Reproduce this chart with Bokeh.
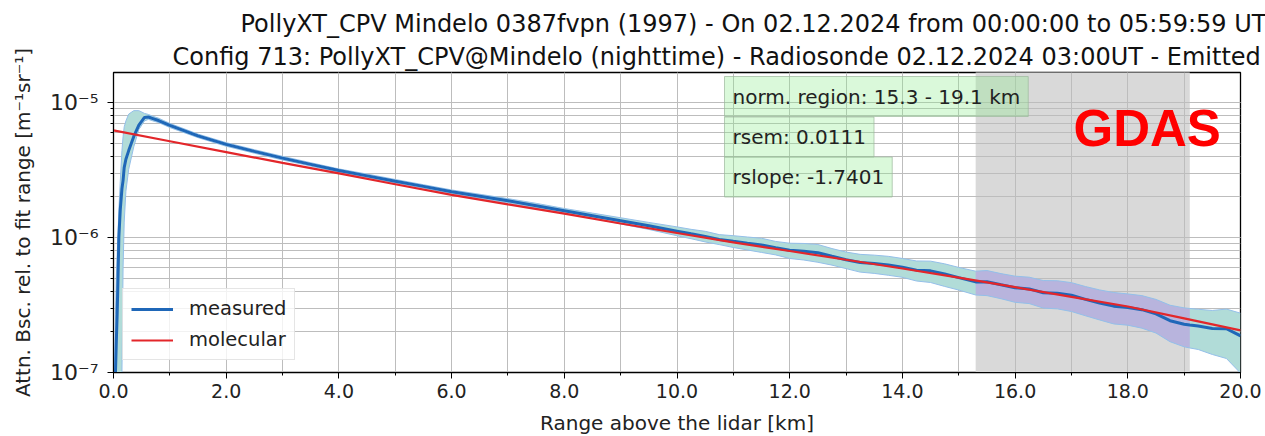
from bokeh.plotting import figure
from bokeh.models import (Range1d, Label, Legend, LegendItem, SingleIntervalTicker,
                          LogTicker, PrintfTickFormatter, CustomJSTickFormatter, Title)
from bokeh.embed import file_html
from bokeh.resources import INLINE

# ---------------- data ----------------
title_line1 = "PollyXT_CPV Mindelo 0387fvpn (1997) - On 02.12.2024 from 00:00:00 to 05:59:59 UT"
title_line2 = "Config 713: PollyXT_CPV@Mindelo (nighttime) - Radiosonde 02.12.2024 03:00UT - Emitted"
x_label = "Range above the lidar [km]"
y_label = "Attn. Bsc. rel. to fit range [m\u207b\u00b9sr\u207b\u00b9]"
norm_text = "norm. region: 15.3 - 19.1 km"
rsem_text = "rsem: 0.0111"
rslope_text = "rslope: -1.7401"
source_text = "GDAS"
norm_lo = 15.3
norm_hi = 19.1

range_km = [0.02, 0.035, 0.05, 0.065, 0.08, 0.095, 0.12, 0.15, 0.17, 0.19, 0.22, 0.27,
            0.36, 0.45, 0.55, 0.62, 0.7, 0.8, 1.0, 1.5, 2.0, 2.5, 3.0, 3.5, 4.0, 4.5,
            5.0, 5.5, 6.0, 6.5, 7.0, 7.5, 8.0, 8.5, 9.0, 9.5, 10.0, 10.25, 10.5, 10.75,
            11.0, 11.25, 11.5, 11.75, 12.0, 12.25, 12.5, 12.75, 13.0, 13.25, 13.5, 13.75,
            14.0, 14.25, 14.5, 14.75, 15.0, 15.3, 15.5, 15.75, 16.0, 16.25, 16.5, 16.75,
            17.0, 17.25, 17.5, 17.75, 18.0, 18.25, 18.5, 18.75, 19.0, 19.1, 19.25, 19.5,
            19.75, 20.0]
measured = [5e-8, 1.0e-7, 1.7e-7, 2.7e-7, 5.0e-7, 1.0e-6, 1.6e-6, 2.3e-6, 2.65e-6, 3.3e-6,
            3.8e-6, 4.4e-6, 5.6e-6, 6.8e-6, 7.75e-6, 7.8e-6, 7.6e-6, 7.35e-6, 6.76e-6,
            5.66e-6, 4.89e-6, 4.34e-6, 3.87e-6, 3.48e-6, 3.13e-6, 2.86e-6, 2.61e-6,
            2.39e-6, 2.18e-6, 2.02e-6, 1.87e-6, 1.72e-6, 1.58e-6, 1.45e-6, 1.33e-6,
            1.22e-6, 1.114e-6, 1.064e-6, 1.019e-6, 9.68e-7, 9.37e-7, 9.08e-7, 8.81e-7,
            8.39e-7, 8.03e-7, 7.92e-7, 7.71e-7, 7.26e-7, 6.84e-7, 6.52e-7, 6.41e-7,
            6.25e-7, 6.03e-7, 5.73e-7, 5.66e-7, 5.36e-7, 5.04e-7, 4.69e-7, 4.70e-7,
            4.46e-7, 4.24e-7, 4.16e-7, 3.90e-7, 3.87e-7, 3.73e-7, 3.48e-7, 3.27e-7,
            3.10e-7, 3.03e-7, 2.92e-7, 2.72e-7, 2.42e-7, 2.28e-7, 2.25e-7, 2.21e-7,
            2.12e-7, 2.11e-7, 1.87e-7]
meas_lo = [1e-9, 1e-9, 1e-9, 1e-9, 1e-9, 1e-9, 1e-9, 1.0e-7, 6e-7, 1.3e-6, 2.2e-6, 3.2e-6,
           4.7e-6, 6.3e-6, 7.3e-6, 7.5e-6, 7.3e-6, 7.1e-6, 6.52e-6, 5.49e-6, 4.74e-6,
           4.21e-6, 3.75e-6, 3.38e-6, 3.04e-6, 2.77e-6, 2.53e-6, 2.32e-6, 2.11e-6,
           1.95e-6, 1.80e-6, 1.65e-6, 1.52e-6, 1.385e-6, 1.26e-6, 1.147e-6, 1.03e-6,
           9.79e-7, 9.27e-7, 8.86e-7, 8.43e-7, 8.08e-7, 7.75e-7, 7.43e-7, 6.99e-7,
           6.81e-7, 6.55e-7, 6.24e-7, 5.88e-7, 5.54e-7, 5.42e-7, 5.25e-7, 5.07e-7,
           4.76e-7, 4.64e-7, 4.34e-7, 4.08e-7, 3.75e-7, 3.71e-7, 3.52e-7, 3.31e-7,
           3.24e-7, 3.00e-7, 2.96e-7, 2.83e-7, 2.63e-7, 2.45e-7, 2.29e-7, 2.24e-7,
           2.13e-7, 1.96e-7, 1.69e-7, 1.55e-7, 1.52e-7, 1.48e-7, 1.36e-7, 1.27e-7,
           0.99e-7]
meas_hi = [1.1e-7, 2.7e-7, 5.0e-7, 7.5e-7, 1.05e-6, 1.6e-6, 2.6e-6, 4.4e-6, 5.6e-6, 6.6e-6,
           7.3e-6, 8.2e-6, 8.7e-6, 8.7e-6, 8.3e-6, 8.15e-6, 7.9e-6, 7.65e-6, 7.0e-6,
           5.83e-6, 5.04e-6, 4.47e-6, 3.99e-6, 3.58e-6, 3.22e-6, 2.95e-6, 2.69e-6,
           2.46e-6, 2.25e-6, 2.09e-6, 1.94e-6, 1.79e-6, 1.64e-6, 1.515e-6, 1.40e-6,
           1.293e-6, 1.198e-6, 1.149e-6, 1.111e-6, 1.050e-6, 1.031e-6, 1.008e-6,
           9.87e-7, 9.35e-7, 9.07e-7, 9.03e-7, 8.87e-7, 8.28e-7, 7.80e-7, 7.50e-7,
           7.40e-7, 7.25e-7, 6.99e-7, 6.70e-7, 6.68e-7, 6.38e-7, 6.00e-7, 5.63e-7,
           5.69e-7, 5.40e-7, 5.17e-7, 5.08e-7, 4.80e-7, 4.78e-7, 4.63e-7, 4.33e-7,
           4.09e-7, 3.91e-7, 3.82e-7, 3.71e-7, 3.48e-7, 3.15e-7, 3.01e-7, 2.98e-7,
           2.94e-7, 2.88e-7, 2.95e-7, 2.75e-7]

mol_range = [0, 1, 2, 3, 4, 5, 6, 7, 8, 9, 10, 11, 12, 13, 14, 15, 16, 17, 18, 19, 20]
molecular = [6.21e-6, 5.16e-6, 4.29e-6, 3.57e-6, 2.98e-6, 2.48e-6, 2.07e-6, 1.76e-6,
             1.50e-6, 1.27e-6, 1.08e-6, 9.20e-7, 7.94e-7, 6.84e-7, 5.89e-7, 5.04e-7,
             4.29e-7, 3.63e-7, 3.08e-7, 2.52e-7, 2.05e-7]

# ---------------- figure ----------------
FONT = "DejaVu Sans"
p = figure(frame_width=1127, frame_height=300, title=None,
           min_border_left=113, min_border_right=25, min_border_top=72, min_border_bottom=64,
           x_range=Range1d(0, 20), y_range=Range1d(1e-7, 1.667e-5), y_axis_type="log",
           output_backend="svg", toolbar_location=None)
p.background_fill_color = "white"
p.border_fill_color = "white"
p.outline_line_color = "black"
p.outline_line_width = 1.3

# normalisation region shading (under the grid)
p.quad(left=[norm_lo], right=[norm_hi], bottom=[1e-10], top=[1e-3],
       fill_color="#d9d9d9", line_color=None, level="image")

# uncertainty band
p.varea(x=range_km, y1=meas_lo, y2=meas_hi, fill_color="#b1dcd8")
sel = [i for i, r in enumerate(range_km) if norm_lo <= r <= norm_hi]
p.varea(x=[range_km[i] for i in sel], y1=[meas_lo[i] for i in sel],
        y2=[meas_hi[i] for i in sel], fill_color="#b8b4dd")
p.line(range_km, meas_lo, line_color="#94bfe9", line_width=1)
p.line(range_km, meas_hi, line_color="#94bfe9", line_width=1)

r_meas = p.line(range_km, measured, line_color="#1f67b8", line_width=3)
r_mol = p.line(mol_range, molecular, line_color="#e3262a", line_width=2.2)

# axes
xt = SingleIntervalTicker(interval=2, num_minor_ticks=2)
p.xaxis.ticker = xt
p.xgrid.ticker = xt
p.xaxis.formatter = PrintfTickFormatter(format="%.1f")
yt = LogTicker(num_minor_ticks=10)
p.yaxis.ticker = yt
p.ygrid.ticker = yt
p.yaxis.formatter = CustomJSTickFormatter(code="""
const e = Math.round(Math.log10(tick));
const sup = {'-':'\u207b','0':'\u2070','1':'\u00b9','2':'\u00b2','3':'\u00b3','4':'\u2074','5':'\u2075','6':'\u2076','7':'\u2077','8':'\u2078','9':'\u2079'};
return '10' + String(e).split('').map(c => sup[c]).join('');
""")
p.xaxis.axis_label = x_label
p.yaxis.axis_label = y_label
for ax in (p.xaxis[0], p.yaxis[0]):
    ax.axis_line_color = "black"
    ax.major_tick_line_color = "black"
    ax.minor_tick_line_color = "black"
    ax.major_tick_out = 6
    ax.major_tick_in = 0
    ax.minor_tick_out = 3
    ax.minor_tick_in = 0
    ax.major_label_text_font = FONT
    ax.major_label_text_font_size = "19px"
    ax.major_label_text_color = "#222222"
    ax.axis_label_text_font = FONT
    ax.axis_label_text_font_size = "20px"
    ax.axis_label_text_font_style = "normal"
    ax.axis_label_text_color = "#222222"
p.yaxis.major_label_text_font_size = "22px"
p.xaxis.major_label_standoff = 5
p.xaxis.axis_label_standoff = 10
p.yaxis.major_label_standoff = 9
p.yaxis.axis_label_standoff = 12

for g in (p.xgrid[0], p.ygrid[0]):
    g.grid_line_color = "#bdbdbd"
    g.grid_line_width = 1
    g.minor_grid_line_color = "#bdbdbd"
    g.minor_grid_line_width = 1

# titles (second line nearest to the frame)
p.add_layout(Title(text=title_line2, align="left", offset=59, standoff=4,
                   text_font=FONT, text_font_size="24px", text_font_style="normal",
                   text_color="#111111"), "above")
p.add_layout(Title(text=title_line1, align="left", offset=127, standoff=2,
                   text_font=FONT, text_font_size="24px", text_font_style="normal",
                   text_color="#111111"), "above")

# annotation boxes
for txt, yc in ((norm_text, 276), (rsem_text, 235.5), (rslope_text, 195.5)):
    p.add_layout(Label(x=611, y=yc, x_units="screen", y_units="screen", text=txt,
                       text_font=FONT, text_font_size="20px", text_color="#222222",
                       text_baseline="middle", padding=8,
                       background_fill_color="#90ee90", background_fill_alpha=0.33,
                       border_line_color="#9db89d", border_line_alpha=0.7, border_line_width=1))

p.add_layout(Label(x=960, y=244, x_units="screen", y_units="screen", text=source_text,
                   text_font="Liberation Sans", text_font_style="bold", text_font_size="51px",
                   text_color="#ff0000", text_baseline="alphabetic"))

legend = Legend(items=[LegendItem(label="measured", renderers=[r_meas]),
                       LegendItem(label="molecular", renderers=[r_mol])],
                location=(9, 12), label_text_font=FONT, label_text_font_size="19.5px",
                label_text_color="#222222", glyph_width=42, glyph_height=22,
                label_standoff=16, spacing=8, padding=8, margin=0,
                border_line_color="#cccccc", border_line_width=1,
                background_fill_color="white", background_fill_alpha=0.8)
p.add_layout(legend)

open("out.html", "w").write(file_html(p, INLINE))
